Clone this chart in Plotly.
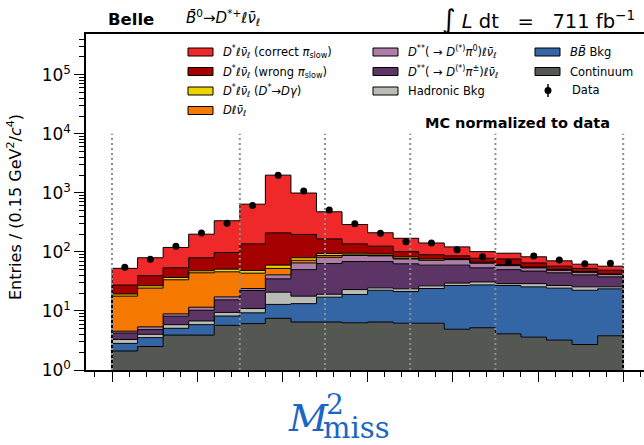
import numpy as np
import plotly.graph_objects as go

# M_miss^2 binning: 20 bins of 0.15 GeV^2
bin_edges = np.round(np.arange(21) * 0.15, 4)

# Stacked MC components (bottom to top), entries per bin
continuum = [2.1, 2.5, 3.9, 3.9, 5.7, 6.1, 7.5, 6.5, 6.5, 6.3, 6.5, 6.2, 6.2, 4.9, 5.2, 4.1, 3.6, 3.2, 2.7, 3.8]
bb_bkg = [0.72, 1.03, 1.18, 1.96, 2.5, 3.2, 5.4, 6.8, 10.6, 12.7, 15.9, 15.1, 17.8, 22.1, 22.4, 22.9, 22.0, 21.1, 19.7, 19.9]
hadronic = [0.47, 0.49, 0.78, 0.91, 1.25, 1.7, 7.9, 4.5, 2.1, 4.0, 2.2, 2.4, 2.6, 2.6, 3.4, 2.0, 3.4, 2.7, 3.2, 1.9]
dss_charged = [0.94, 0.81, 2.28, 3.49, 5.97, 11.2, 14.2, 32.2, 44.3, 45.7, 44.1, 39.2, 33.1, 30.1, 22.8, 21.0, 18.3, 17.3, 15.3, 12.2]
dss_neutral = [0.31, 0.54, 0.78, 1.3, 1.9, 1.8, 5.9, 15.0, 17.5, 18.3, 16.9, 13.1, 12.3, 14.3, 10.8, 8.6, 6.5, 4.7, 4.4, 3.6]
d_lnu = [13.3, 19.0, 24.8, 32.7, 28.7, 19.6, 11.6, 7.0, 6.0, 2.0, 1.4, 1.0, 0.5, 0.5, 0.4, 0.4, 0.2, 0.2, 0.2, 0.2]
dst_dgamma = [1.5, 2.3, 3.2, 3.6, 5.0, 4.9, 7.2, 7.6, 7.0, 6.0, 5.0, 5.0, 3.5, 2.5, 2.0, 2.0, 1.5, 1.3, 1.0, 0.9]
dst_wrong = [8.1, 12.8, 17.0, 31.7, 46.7, 88.5, 151, 118, 72, 42, 33, 19, 13.6, 8.6, 11, 15, 9.5, 6.8, 6.0, 6.5]
dst_correct = [25.2, 40.1, 65, 120, 239, 506, 1784, 795, 312, 154, 86, 69, 52, 36, 23, 19, 17.6, 13.3, 9.4, 8.3]

# Measured yields
data = [55, 75, 125, 208, 306, 611, 1995, 1070, 511, 299, 207, 148, 142, 109, 83, 66, 85, 73, 63, 64]

# Region boundaries shown as dotted lines
region_edges = [0.0, 0.75, 1.25, 1.75, 2.25, 3.0]
region_line_top = 1e4

y_tick_vals = [1, 10, 100, 1000, 10000, 100000]
y_tick_text = ["10<sup>%d</sup>" % i for i in range(6)]

components = [
    (continuum, "#555753"),
    (bb_bkg, "#3465a4"),
    (hadronic, "#babdb6"),
    (dss_charged, "#5c3566"),
    (dss_neutral, "#ad7fa8"),
    (d_lnu, "#f57900"),
    (dst_dgamma, "#edd400"),
    (dst_wrong, "#a40000"),
    (dst_correct, "#ef2929"),
]

FLOOR = 0.5
fig = go.Figure()

xs = np.concatenate([[bin_edges[0]], bin_edges, [bin_edges[-1]]])


def step_y(vals):
    vals = np.asarray(vals, dtype=float)
    return np.concatenate([[FLOOR], vals, [vals[-1]], [FLOOR]])


# invisible baseline for the first fill
fig.add_trace(go.Scatter(x=xs, y=step_y(np.full(20, FLOOR)), mode="lines",
                         line=dict(width=0, shape="hv"), hoverinfo="skip"))

cum = np.zeros(20)
for vals, color in components:
    cum = cum + np.asarray(vals, dtype=float)
    fig.add_trace(go.Scatter(x=xs, y=step_y(cum), mode="lines", fill="tonexty",
                             fillcolor=color, line=dict(color="black", width=1, shape="hv")))

for xe in region_edges:
    fig.add_trace(go.Scatter(x=[xe, xe], y=[1, region_line_top], mode="lines",
                             line=dict(color="#8f8f8f", width=2, dash="2px,3px")))

centers = 0.5 * (bin_edges[:-1] + bin_edges[1:])
fig.add_trace(go.Scatter(x=centers, y=data, mode="markers",
                         marker=dict(color="black", size=7)))

# ---- layout geometry (pixel helpers) ----
L, R, T, B = 86, 644, 34, 370


def px(x):
    return (x - L) / (R - L)


def py(y):
    return (B - y) / (B - T)


annotations = []
shapes = []


def text(x, y, s, size, anchor="left", **kw):
    d = dict(x=px(x), y=py(y), xref="paper", yref="paper", text=s, showarrow=False,
             xanchor=anchor, yanchor="middle", font=dict(size=size, color="black",
                                                         family="DejaVu Sans"))
    d.update(kw)
    annotations.append(d)


# legend (three columns)
ell_nu = "<i>ℓν̄</i><sub><i>ℓ</i></sub>"
legend_items = [
    (188, 52, "#ef2929", "<i>D</i><sup>*</sup>" + ell_nu + " (correct <i>π</i><sub>slow</sub>)"),
    (188, 71.5, "#a40000", "<i>D</i><sup>*</sup>" + ell_nu + " (wrong <i>π</i><sub>slow</sub>)"),
    (188, 91, "#edd400", "<i>D</i><sup>*</sup>" + ell_nu + " (<i>D</i><sup>*</sup>→<i>Dγ</i>)"),
    (188, 110.5, "#f57900", "<i>D</i>" + ell_nu),
    (373, 52, "#ad7fa8", "<i>D</i><sup>**</sup>( → <i>D</i><sup>(*)</sup><i>π</i><sup>0</sup>)" + ell_nu),
    (373, 71.5, "#5c3566", "<i>D</i><sup>**</sup>( → <i>D</i><sup>(*)</sup><i>π</i><sup>±</sup>)" + ell_nu),
    (373, 91, "#babdb6", "Hadronic Bkg"),
    (535, 52, "#3465a4", "<i>BB̄</i> Bkg"),
    (535, 71.5, "#555753", "Continuum"),
]
for x0, yc, col, lab in legend_items:
    shapes.append(dict(type="rect", xref="paper", yref="paper", x0=px(x0), x1=px(x0 + 25),
                       y0=py(yc + 4), y1=py(yc - 4), fillcolor=col,
                       line=dict(color="black", width=1), layer="above"))
    text(x0 + 33, yc, lab, 11.5)

# data legend symbol
shapes.append(dict(type="line", xref="paper", yref="paper", x0=px(548), x1=px(548),
                   y0=py(84), y1=py(97), line=dict(color="black", width=1.5)))
shapes.append(dict(type="circle", xref="paper", yref="paper", x0=px(544.5), x1=px(551.5),
                   y0=py(94), y1=py(87), fillcolor="black", line=dict(color="black", width=0)))
text(570, 90.5, "Data", 11.5)

text(423, 123, "<b>MC normalized to data</b>", 14.5)

# header
text(106, 20, "<b>Belle</b>", 16.5)
text(184, 18, "<i>B̄</i><sup>0</sup>→<i>D</i><sup>*+</sup>" + ell_nu, 15)
text(637, 19, "<span style='font-size:26px'>∫</span> <i>L</i> dt   =   711 fb<sup>−1</sup>", 19.5,
     anchor="right")

# axis titles
text(15, 207, "Entries / (0.15 GeV<sup>2</sup>/<i>c</i><sup>4</sup>)", 16, anchor="center",
     textangle=-90)
blue = "#1a66c4"
annotations.append(dict(x=px(286), y=py(418), xref="paper", yref="paper", text="<i>M</i>",
                        showarrow=False, xanchor="left", yanchor="middle",
                        font=dict(size=38, color=blue, family="DejaVu Serif")))
annotations.append(dict(x=px(324), y=py(404), xref="paper", yref="paper", text="2",
                        showarrow=False, xanchor="left", yanchor="middle",
                        font=dict(size=28, color=blue, family="DejaVu Serif")))
annotations.append(dict(x=px(321), y=py(428), xref="paper", yref="paper", text="miss",
                        showarrow=False, xanchor="left", yanchor="middle",
                        font=dict(size=29, color=blue, family="DejaVu Serif")))

minor_y = [k * 10 ** n for n in range(6) for k in range(2, 10)]

fig.update_layout(
    width=644, height=445,
    margin=dict(l=L, r=644 - R, t=T, b=445 - B),
    plot_bgcolor="white", paper_bgcolor="white",
    showlegend=False,
    font=dict(family="DejaVu Sans", color="black"),
    annotations=annotations, shapes=shapes,
    xaxis=dict(range=[-0.1526, 3.122], tick0=0, dtick=0.5, ticks="outside", ticklen=10,
               tickwidth=1.2, tickcolor="black", showticklabels=False, showgrid=False,
               zeroline=False, showline=True, linecolor="black", linewidth=1.5, mirror=True,
               minor=dict(dtick=0.1, tick0=0, ticks="outside", ticklen=5, tickwidth=1,
                          tickcolor="black", showgrid=False)),
    yaxis=dict(type="log", range=[0, 5.69], tickmode="array", tickvals=y_tick_vals,
               ticktext=y_tick_text, ticks="outside", ticklen=10, tickwidth=1.2,
               tickcolor="black", tickfont=dict(size=17), showgrid=False, zeroline=False,
               showline=True, linecolor="black", linewidth=1.5,
               minor=dict(tickmode="array", tickvals=minor_y, ticks="outside", ticklen=5,
                          tickwidth=1, tickcolor="black", showgrid=False)),
)

fig.write_html("out.html")
